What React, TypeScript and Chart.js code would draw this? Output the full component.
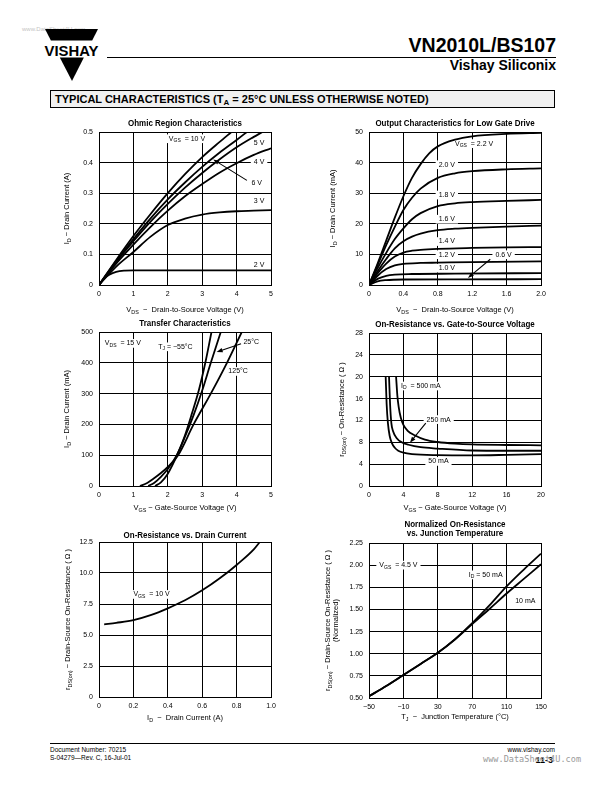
import React, { useEffect, useRef } from "react";
import { Chart, registerables } from "chart.js";
Chart.register(...registerables);

type Pt = [number, number];
const FONT = "'Liberation Sans', Arial, Helvetica, sans-serif";

// ---------- 1. Ohmic Region Characteristics ----------
const ohmicXTicks = [0, 1, 2, 3, 4, 5];
const ohmicXLabels = ["0", "1", "2", "3", "4", "5"];
const ohmicYTicks = [0, 0.1, 0.2, 0.3, 0.4, 0.5];
const ohmicYLabels = ["0", "0.1", "0.2", "0.3", "0.4", "0.5"];
const ohmicVgs10: Pt[] = [[0, 0], [0.5, 0.082], [1, 0.16], [1.5, 0.232], [2, 0.3], [2.5, 0.362], [3, 0.418], [3.5, 0.467], [3.85, 0.5]];
const ohmicVgs6: Pt[] = [[0, 0], [0.5, 0.078], [1, 0.15], [1.5, 0.218], [2, 0.28], [2.5, 0.335], [3, 0.386], [3.5, 0.432], [4, 0.474], [4.3, 0.5]];
const ohmicVgs5: Pt[] = [[0, 0], [0.5, 0.075], [1, 0.143], [1.5, 0.207], [2, 0.265], [2.5, 0.318], [3, 0.366], [3.5, 0.41], [4, 0.45], [4.5, 0.484], [4.75, 0.5]];
const ohmicVgs4: Pt[] = [[0, 0], [0.5, 0.07], [1, 0.132], [1.5, 0.19], [2, 0.243], [2.5, 0.29], [3, 0.33], [3.5, 0.367], [4, 0.398], [4.5, 0.425], [5, 0.447]];
const ohmicVgs3: Pt[] = [[0, 0], [0.5, 0.06], [1, 0.108], [1.5, 0.158], [2, 0.196], [2.5, 0.217], [3, 0.23], [3.5, 0.237], [4, 0.241], [4.5, 0.243], [5, 0.245]];
const ohmicVgs2: Pt[] = [[0, 0], [0.15, 0.022], [0.3, 0.034], [0.5, 0.043], [0.75, 0.047], [1, 0.048], [2, 0.048], [5, 0.048]];

// ---------- 2. Output Characteristics for Low Gate Drive ----------
const outXTicks = [0, 0.4, 0.8, 1.2, 1.6, 2.0];
const outXLabels = ["0", "0.4", "0.8", "1.2", "1.6", "2.0"];
const outYTicks = [0, 10, 20, 30, 40, 50];
const outYLabels = ["0", "10", "20", "30", "40", "50"];
const outVgs22: Pt[] = [[0, 0], [0.1, 7], [0.2, 14.5], [0.3, 22], [0.4, 29], [0.5, 35], [0.6, 39.5], [0.7, 43], [0.8, 45.3], [1.0, 47.5], [1.2, 48.6], [1.6, 49.4], [2.0, 49.7]];
const outVgs20: Pt[] = [[0, 0], [0.1, 6.5], [0.2, 13], [0.3, 19], [0.4, 24.5], [0.5, 28.5], [0.6, 31.5], [0.8, 35], [1.0, 36.5], [1.2, 37.2], [1.6, 37.8], [2.0, 38.1]];
const outVgs18: Pt[] = [[0, 0], [0.1, 5.5], [0.2, 10.5], [0.3, 15], [0.4, 18.5], [0.5, 21.5], [0.6, 23.5], [0.8, 25.8], [1.0, 26.7], [1.2, 27.1], [1.6, 27.5], [2.0, 27.8]];
const outVgs16: Pt[] = [[0, 0], [0.1, 4.5], [0.2, 8.5], [0.3, 12], [0.4, 14.3], [0.5, 15.8], [0.6, 16.8], [0.8, 17.9], [1.0, 18.4], [1.2, 18.7], [1.6, 19.1], [2.0, 19.4]];
const outVgs14: Pt[] = [[0, 0], [0.1, 3.8], [0.2, 7], [0.3, 9.3], [0.4, 10.6], [0.5, 11.2], [0.6, 11.5], [0.8, 11.8], [1.2, 12.1], [1.6, 12.3], [2.0, 12.4]];
const outVgs12: Pt[] = [[0, 0], [0.1, 3], [0.2, 5.2], [0.3, 6.4], [0.4, 6.9], [0.6, 7.2], [0.8, 7.3], [1.2, 7.5], [2.0, 7.7]];
const outVgs10: Pt[] = [[0, 0], [0.1, 2], [0.2, 3], [0.3, 3.4], [0.5, 3.6], [1.0, 3.7], [2.0, 3.9]];
const outVgs06: Pt[] = [[0, 0], [0.1, 1.2], [0.2, 1.6], [0.4, 1.8], [1.0, 1.85], [2.0, 1.9]];

// ---------- 3. Transfer Characteristics ----------
const trXTicks = [0, 1, 2, 3, 4, 5];
const trXLabels = ["0", "1", "2", "3", "4", "5"];
const trYTicks = [0, 100, 200, 300, 400, 500];
const trYLabels = ["0", "100", "200", "300", "400", "500"];
const trTjM55: Pt[] = [[1.63, 0], [1.8, 12], [2.0, 40], [2.27, 100], [2.5, 165], [2.7, 235], [2.9, 310], [3.1, 405], [3.27, 500]];
const trTj25: Pt[] = [[1.43, 0], [1.6, 10], [1.8, 30], [2.0, 55], [2.26, 100], [2.5, 160], [2.75, 230], [3.0, 310], [3.25, 400], [3.54, 500]];
const trTj125: Pt[] = [[1.19, 0], [1.4, 10], [1.6, 25], [1.8, 42], [2.0, 62], [2.3, 100], [2.75, 200], [3.25, 300], [3.72, 400], [4.15, 500]];

// ---------- 4. On-Resistance vs. Gate-to-Source Voltage ----------
const rgXTicks = [0, 4, 8, 12, 16, 20];
const rgXLabels = ["0", "4", "8", "12", "16", "20"];
const rgYTicks = [0, 4, 8, 12, 16, 20, 24, 28];
const rgYLabels = ["0", "4", "8", "12", "16", "20", "24", "28"];
const rgId500: Pt[] = [[3.15, 20], [3.3, 16.5], [3.45, 14.5], [3.7, 12.5], [4, 11.2], [4.5, 10.1], [5.3, 9.3], [6.5, 8.5], [8, 8.05], [10, 7.75], [12, 7.6], [16, 7.5], [20, 7.45]];
const rgId250: Pt[] = [[2.33, 20], [2.45, 15], [2.6, 11.5], [2.8, 10], [3.2, 8.8], [3.8, 8.0], [4.6, 7.55], [6, 7.1], [8, 6.85], [12, 6.5], [16, 6.45], [20, 6.45]];
const rgId50: Pt[] = [[1.94, 20], [2.05, 15], [2.2, 11.5], [2.4, 9.2], [2.65, 7.9], [3.0, 7.0], [3.4, 6.47], [4, 6.1], [5, 5.85], [8, 5.65], [12, 5.6], [16, 5.7], [20, 5.85]];

// ---------- 5. On-Resistance vs. Drain Current ----------
const riXTicks = [0, 0.2, 0.4, 0.6, 0.8, 1.0];
const riXLabels = ["0", "0.2", "0.4", "0.6", "0.8", "1.0"];
const riYTicks = [0, 2.5, 5, 7.5, 10, 12.5];
const riYLabels = ["0", "2.5", "5.0", "7.5", "10.0", "12.5"];
const riVgs10: Pt[] = [[0.03, 5.85], [0.1, 5.98], [0.2, 6.2], [0.3, 6.6], [0.4, 7.15], [0.5, 7.8], [0.6, 8.6], [0.7, 9.55], [0.8, 10.65], [0.9, 11.9], [0.935, 12.5]];

// ---------- 6. Normalized On-Resistance vs. Junction Temperature ----------
const rtXTicks = [-50, -10, 30, 70, 110, 150];
const rtXLabels = ["−50", "−10", "30", "70", "110", "150"];
const rtYTicks = [0.5, 0.75, 1.0, 1.25, 1.5, 1.75, 2.0, 2.25];
const rtYLabels = ["0.50", "0.75", "1.00", "1.25", "1.50", "1.75", "2.00", "2.25"];
const rtId50: Pt[] = [[-50, 0.52], [-30, 0.635], [-10, 0.76], [10, 0.885], [30, 1.01], [50, 1.165], [70, 1.345], [90, 1.545], [110, 1.76], [130, 1.95], [150, 2.13]];
const rtId10: Pt[] = [[-50, 0.52], [-30, 0.635], [-10, 0.76], [10, 0.885], [30, 1.01], [50, 1.16], [70, 1.335], [90, 1.505], [110, 1.68], [130, 1.845], [150, 2.01]];

// ---------- annotations (data coordinates) ----------
type Note = { x: number; y: number; s: string };
type Arrow = { x1: number; y1: number; x2: number; y2: number };
const ohmicNotes: Note[] = [
  { x: 2.03, y: 0.478, s: "V_{GS}  = 10 V" },
  { x: 4.5, y: 0.464, s: "5 V" },
  { x: 4.5, y: 0.402, s: "4 V" },
  { x: 4.43, y: 0.332, s: "6 V" },
  { x: 4.5, y: 0.274, s: "3 V" },
  { x: 4.5, y: 0.066, s: "2 V" },
];
const ohmicArrows: Arrow[] = [{ x1: 4.3, y1: 0.342, x2: 3.32, y2: 0.41 }];
const outNotes: Note[] = [
  { x: 1.0, y: 46.2, s: "V_{GS}  = 2.2 V" },
  { x: 0.81, y: 39.3, s: "2.0 V" },
  { x: 0.81, y: 29.4, s: "1.8 V" },
  { x: 0.81, y: 21.5, s: "1.6 V" },
  { x: 0.81, y: 14.2, s: "1.4 V" },
  { x: 0.81, y: 9.9, s: "1.2 V" },
  { x: 0.81, y: 5.5, s: "1.0 V" },
  { x: 1.47, y: 9.9, s: "0.6 V" },
];
const outArrows: Arrow[] = [{ x1: 1.41, y1: 8.4, x2: 1.15, y2: 2.3 }];
const trNotes: Note[] = [
  { x: 0.17, y: 463, s: "V_{DS}  = 15 V" },
  { x: 1.72, y: 452, s: "T_{J} = −55°C" },
  { x: 4.2, y: 466, s: "25°C" },
  { x: 3.76, y: 372, s: "125°C" },
];
const trArrows: Arrow[] = [{ x1: 4.13, y1: 462, x2: 3.42, y2: 435 }];
const rgNotes: Note[] = [
  { x: 3.72, y: 18.3, s: "I_{D}  = 500 mA" },
  { x: 6.7, y: 12.15, s: "250 mA" },
  { x: 6.9, y: 4.5, s: "50 mA" },
];
const rgArrows: Arrow[] = [{ x1: 6.6, y1: 11.5, x2: 4.76, y2: 7.9 }];
const riNotes: Note[] = [{ x: 0.2, y: 8.27, s: "V_{GS}  = 10 V" }];
const rtNotes: Note[] = [
  { x: -38, y: 2.0, s: "V_{GS}  = 4.5 V" },
  { x: 66, y: 1.89, s: "I_{D} = 50 mA" },
  { x: 120, y: 1.595, s: "10 mA" },
];

// ---------- rich text helper ----------
function parseRich(s: string) {
  const out: { t: string; sub: boolean }[] = [];
  const re = /_\{([^}]*)\}/g;
  let last = 0;
  let m: RegExpExecArray | null;
  while ((m = re.exec(s))) {
    if (m.index > last) out.push({ t: s.slice(last, m.index), sub: false });
    out.push({ t: m[1], sub: true });
    last = re.lastIndex;
  }
  if (last < s.length) out.push({ t: s.slice(last), sub: false });
  return out;
}

type RichOpt = { size: number; bold?: boolean; align?: "left" | "center" | "right"; sx?: number; bg?: boolean; rotate?: boolean; padX?: number };
function drawRich(ctx: CanvasRenderingContext2D, s: string, x: number, y: number, o: RichOpt) {
  const parts = parseRich(s);
  const w8 = o.bold ? "bold " : "";
  const subSize = o.size * 0.72;
  ctx.save();
  ctx.translate(x, y);
  if (o.rotate) ctx.rotate(-Math.PI / 2);
  ctx.scale(o.sx ?? 1, 1);
  const widths = parts.map((p) => {
    ctx.font = `${w8}${p.sub ? subSize : o.size}px ${FONT}`;
    return ctx.measureText(p.t).width;
  });
  const w = widths.reduce((a, b) => a + b, 0);
  let cx = o.align === "center" ? -w / 2 : o.align === "right" ? -w : 0;
  if (o.bg) {
    const px = o.padX ?? 3;
    ctx.fillStyle = "#fff";
    ctx.fillRect(cx - px, -o.size * 0.62, w + 2 * px, o.size * 1.24);
  }
  ctx.fillStyle = "#000";
  ctx.textBaseline = "middle";
  ctx.textAlign = "left";
  parts.forEach((p, i) => {
    ctx.font = `${w8}${p.sub ? subSize : o.size}px ${FONT}`;
    ctx.fillText(p.t, cx, p.sub ? o.size * 0.3 : 0);
    cx += widths[i];
  });
  ctx.restore();
}

type Spec = {
  area: [number, number, number, number];
  series: Pt[][];
  xTicks: number[];
  xLabels: string[];
  yTicks: number[];
  yLabels: string[];
  title: string[];
  titleDy: number[];
  xTitle: string;
  xTitleDy: number;
  yTitle: string[];
  yTitleDx: number[];
  notes: Note[];
  arrows: Arrow[];
};

function makeNotes(c: Spec) {
  return {
    id: "notes",
    beforeDatasetsDraw(chart: any) {
      const { ctx, scales } = chart;
      for (const n of c.notes) {
        drawRich(ctx, n.s, scales.x.getPixelForValue(n.x), scales.y.getPixelForValue(n.y), { size: 7, bg: true, align: "left", padX: 3 });
      }
    },
    afterDatasetsDraw(chart: any) {
      const { ctx, scales } = chart;
      for (const a of c.arrows) {
        const x1 = scales.x.getPixelForValue(a.x1), y1 = scales.y.getPixelForValue(a.y1);
        const x2 = scales.x.getPixelForValue(a.x2), y2 = scales.y.getPixelForValue(a.y2);
        const ang = Math.atan2(y2 - y1, x2 - x1);
        ctx.save();
        ctx.strokeStyle = "#000";
        ctx.fillStyle = "#000";
        ctx.lineWidth = 1.1;
        ctx.beginPath();
        ctx.moveTo(x1, y1);
        ctx.lineTo(x2 - 4 * Math.cos(ang), y2 - 4 * Math.sin(ang));
        ctx.stroke();
        ctx.beginPath();
        ctx.moveTo(x2, y2);
        ctx.lineTo(x2 - 6 * Math.cos(ang) + 2.2 * Math.sin(ang), y2 - 6 * Math.sin(ang) - 2.2 * Math.cos(ang));
        ctx.lineTo(x2 - 6 * Math.cos(ang) - 2.2 * Math.sin(ang), y2 - 6 * Math.sin(ang) + 2.2 * Math.cos(ang));
        ctx.closePath();
        ctx.fill();
        ctx.restore();
      }
    },
    afterDraw(chart: any) {
      const { ctx, chartArea: a } = chart;
      const cx = (a.left + a.right) / 2;
      const cy = (a.top + a.bottom) / 2;
      c.title.forEach((t, i) => drawRich(ctx, t, cx, a.top + c.titleDy[i], { size: 9.5, bold: true, align: "center", sx: 0.84 }));
      drawRich(ctx, c.xTitle, cx, a.bottom + c.xTitleDy, { size: 7.5, align: "center" });
      c.yTitle.forEach((t, i) => drawRich(ctx, t, a.left + c.yTitleDx[i], cy, { size: 7.5, align: "center", rotate: true }));
    },
  };
}

function axis(ticks: number[], labels: string[], kind: "x" | "y") {
  return {
    type: "linear",
    min: ticks[0],
    max: ticks[ticks.length - 1],
    afterBuildTicks: (s: any) => {
      s.ticks = ticks.map((v) => ({ value: v }));
    },
    afterFit: (s: any) => {
      if (kind === "x") s.height = 20;
      else s.width = 25;
    },
    ticks: {
      autoSkip: false,
      maxRotation: 0,
      minRotation: 0,
      padding: kind === "x" ? 5 : 6,
      color: "#000",
      font: { family: FONT, size: 7 },
      callback: (_v: any, i: number) => labels[i],
    },
    grid: { color: "#000", lineWidth: 1, drawTicks: false },
    border: { color: "#000", width: 1 },
  };
}

const specs: Spec[] = [
  {
    area: [99, 132, 271, 285],
    series: [ohmicVgs10, ohmicVgs6, ohmicVgs5, ohmicVgs4, ohmicVgs3, ohmicVgs2],
    xTicks: ohmicXTicks, xLabels: ohmicXLabels, yTicks: ohmicYTicks, yLabels: ohmicYLabels,
    title: ["Ohmic Region Characteristics"], titleDy: [-9],
    xTitle: "V_{DS}  −  Drain-to-Source Voltage (V)", xTitleDy: 25,
    yTitle: ["I_{D} − Drain Current (A)"], yTitleDx: [-32],
    notes: ohmicNotes, arrows: ohmicArrows,
  },
  {
    area: [369, 132, 541, 285],
    series: [outVgs22, outVgs20, outVgs18, outVgs16, outVgs14, outVgs12, outVgs10, outVgs06],
    xTicks: outXTicks, xLabels: outXLabels, yTicks: outYTicks, yLabels: outYLabels,
    title: ["Output Characteristics for Low Gate Drive"], titleDy: [-9],
    xTitle: "V_{DS}  −  Drain-to-Source Voltage (V)", xTitleDy: 25,
    yTitle: ["I_{D} − Drain Current (mA)"], yTitleDx: [-36],
    notes: outNotes, arrows: outArrows,
  },
  {
    area: [99, 332, 271, 486],
    series: [trTjM55, trTj25, trTj125],
    xTicks: trXTicks, xLabels: trXLabels, yTicks: trYTicks, yLabels: trYLabels,
    title: ["Transfer Characteristics"], titleDy: [-9],
    xTitle: "V_{GS} − Gate-Source Voltage (V)", xTitleDy: 22,
    yTitle: ["I_{D} − Drain Current (mA)"], yTitleDx: [-32],
    notes: trNotes, arrows: trArrows,
  },
  {
    area: [369, 333, 541, 486],
    series: [rgId500, rgId250, rgId50],
    xTicks: rgXTicks, xLabels: rgXLabels, yTicks: rgYTicks, yLabels: rgYLabels,
    title: ["On-Resistance vs. Gate-to-Source Voltage"], titleDy: [-9],
    xTitle: "V_{GS} − Gate-Source Voltage (V)", xTitleDy: 22,
    yTitle: ["r_{DS(on)} − On-Resistance ( Ω )"], yTitleDx: [-27],
    notes: rgNotes, arrows: rgArrows,
  },
  {
    area: [99, 542, 271, 697],
    series: [riVgs10],
    xTicks: riXTicks, xLabels: riXLabels, yTicks: riYTicks, yLabels: riYLabels,
    title: ["On-Resistance vs. Drain Current"], titleDy: [-7],
    xTitle: "I_{D}  −  Drain Current (A)", xTitleDy: 21,
    yTitle: ["r_{DS(on)} − Drain-Source On-Resistance ( Ω )"], yTitleDx: [-31],
    notes: riNotes, arrows: [],
  },
  {
    area: [369, 543, 541, 698],
    series: [rtId50, rtId10],
    xTicks: rtXTicks, xLabels: rtXLabels, yTicks: rtYTicks, yLabels: rtYLabels,
    title: ["Normalized On-Resistance", "vs. Junction Temperature"], titleDy: [-19, -10],
    xTitle: "T_{J}  −  Junction Temperature (°C)", xTitleDy: 19,
    yTitle: ["r_{DS(on)} − Drain-Source On-Resistance ( Ω )", "(Normalized)"], yTitleDx: [-41, -33],
    notes: rtNotes, arrows: [],
  },
];

function PlotCanvas({ spec }: { spec: Spec }) {
  const ref = useRef<HTMLCanvasElement>(null);
  const [l, t, r, b] = spec.area;
  const W = r - l + 64;
  const H = b - t + 56;
  useEffect(() => {
    if (!ref.current) return;
    const chart = new Chart(ref.current, {
      type: "line",
      data: {
        datasets: spec.series.map((s) => ({
          data: s.map(([x, y]) => ({ x, y })),
          borderColor: "#000",
          borderWidth: 1.8,
          pointRadius: 0,
          fill: false,
          cubicInterpolationMode: "monotone",
        })),
      },
      options: {
        responsive: false,
        animation: false,
        devicePixelRatio: 1,
        events: [],
        layout: { padding: { left: 25, top: 26, right: 14, bottom: 10 } },
        plugins: { legend: { display: false }, tooltip: { enabled: false }, title: { display: false } },
        scales: {
          x: axis(spec.xTicks, spec.xLabels, "x"),
          y: axis(spec.yTicks, spec.yLabels, "y"),
        },
      } as any,
      plugins: [makeNotes(spec) as any],
    } as any);
    return () => chart.destroy();
  }, []);
  return (
    <canvas
      ref={ref}
      width={W}
      height={H}
      style={{ position: "absolute", left: l - 50, top: t - 26, width: W, height: H }}
    />
  );
}

export default function App() {
  return (
    <div style={{ position: "absolute", left: 0, top: 0, width: 612, height: 792, background: "#fff", overflow: "hidden" }}>
      <svg width={612} height={792} style={{ position: "absolute", left: 0, top: 0 }} fontFamily={FONT}>
        <text x={22} y={31} fontSize={6} fill="#c4c4c4">www.DataSheet4U.com</text>
        <polygon points="45,29 98,29 92.2,40.5 50.9,40.5" fill="#000" />
        <polygon points="59.8,57.5 83.9,57.5 72,81" fill="#000" />
        <text x={71.5} y={55.5} fontSize={14.5} fontWeight={700} textAnchor="middle" textLength={54} lengthAdjust="spacingAndGlyphs">VISHAY</text>
        <rect x={107} y={57} width={449} height={1} fill="#000" />
        <text x={556} y={52} fontSize={19.5} fontWeight={700} textAnchor="end">VN2010L/BS107</text>
        <text x={556} y={69.5} fontSize={14} fontWeight={700} textAnchor="end">Vishay Siliconix</text>
        <rect x={50.5} y={90.5} width={504} height={17} fill="#f0f0f0" stroke="#000" strokeWidth={1} />
        <text x={55} y={103} fontSize={11} fontWeight={700}>
          TYPICAL CHARACTERISTICS (T<tspan fontSize={8} dy={2}>A</tspan>
          <tspan dy={-2}> = 25°C UNLESS OTHERWISE NOTED)</tspan>
        </text>
        <rect x={50} y={743} width={505} height={1} fill="#000" />
        <text x={50} y={752} fontSize={6.5}>Document Number:  70215</text>
        <text x={50} y={760} fontSize={6.5}>S-04279—Rev. C, 16-Jul-01</text>
        <text x={555} y={752} fontSize={6.5} textAnchor="end">www.vishay.com</text>
        <text x={553} y={763} fontSize={9} fontWeight={700} textAnchor="end">11-3</text>
        <text x={483} y={762} fontSize={8.5} fill="#9a9a9a" fontFamily="'DejaVu Sans Mono', monospace" textLength={98}>www.DataSheet4U.com</text>
      </svg>
      {specs.map((s, i) => (
        <PlotCanvas key={i} spec={s} />
      ))}
    </div>
  );
}
